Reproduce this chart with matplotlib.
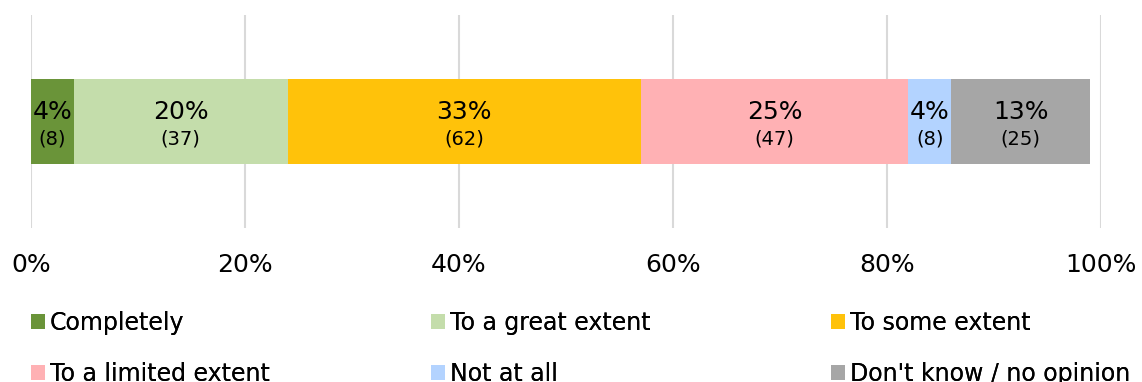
import matplotlib
matplotlib.use("Agg")
import matplotlib.pyplot as plt

# survey answers, rounded shares and respondent counts
categories = ["Completely", "To a great extent", "To some extent",
              "To a limited extent", "Not at all", "Don't know / no opinion"]
percents = [4, 20, 33, 25, 4, 13]
counts = [8, 37, 62, 47, 8, 25]
colours = ["#6A9439", "#C4DDAB", "#FFC20A", "#FFB1B4", "#B3D3FF", "#A6A6A6"]
ticks = [0, 20, 40, 60, 80, 100]

plt.rcParams['font.family'] = ['DejaVu Sans']

fig = plt.figure(figsize=(11.42, 3.82), dpi=100)
ax = fig.add_axes([31/1142, 1 - 228/382, 1070/1142, 213/382])

bars = []
left = 0
for name, p, n, c in zip(categories, percents, counts, colours):
    b = ax.barh(0, p, left=left, height=0.4, color=c, label=name, zorder=3)
    bars.append(b)
    mid = left + p / 2
    ax.text(mid, 0.046, f"{p}%", ha="center", va="center", fontsize=18, zorder=4)
    ax.text(mid, -0.082, f"({n})", ha="center", va="center", fontsize=14, zorder=4)
    left += p

ax.set_xlim(0, 100)
ax.set_ylim(-0.5, 0.5)
ax.set_xticks(ticks)
ax.set_xticklabels([f"{t}%" for t in ticks], fontsize=18)
ax.set_yticks([])
ax.tick_params(axis="x", length=0, pad=18)
ax.grid(axis="x", color="#D9D9D9", linewidth=1.5, zorder=0)
for s in ax.spines.values():
    s.set_visible(False)

# legend laid out as three columns of two entries
col_x = [31/1142, 431/1142, 831/1142]
for j in range(3):
    leg = fig.legend(handles=[bars[j], bars[j + 3]], loc="upper left",
                     bbox_to_anchor=(col_x[j], 1 - 311/382), frameon=False,
                     fontsize=17, handlelength=0.59, handleheight=0.59,
                     handletextpad=0.21, labelspacing=1.15, borderaxespad=0,
                     borderpad=0)
    fig.add_artist(leg)

fig.savefig("out.png", dpi=100)
